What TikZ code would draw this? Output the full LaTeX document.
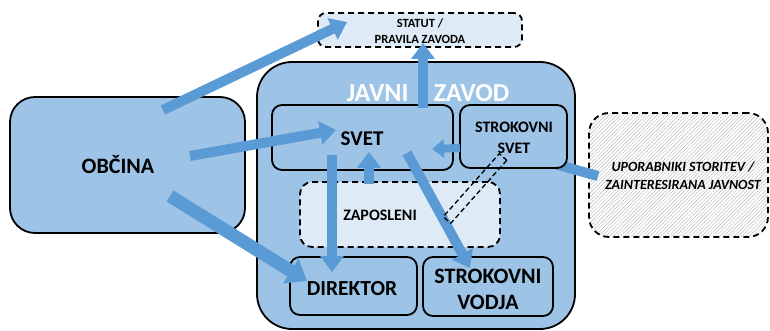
\documentclass[tikz,border=0pt]{standalone}
\usepackage{fontspec}
\setmainfont{Carlito}
\usetikzlibrary{arrows.meta,calc,patterns.meta}
\definecolor{zfill}{HTML}{9DC3E6}
\definecolor{lfill}{HTML}{DEEBF7}
\definecolor{ablue}{HTML}{5B9BD5}
\begin{document}
\begin{tikzpicture}[x=1pt,y=-1pt,
  box/.style={draw=black, line width=1.8pt, fill=zfill, rounded corners=10pt, inner sep=0pt},
  dbox/.style={draw=black, line width=1.8pt, dash pattern=on 6pt off 4pt, rounded corners=10pt, inner sep=0pt},
  txt/.style={inner sep=0pt, align=center, font=\bfseries},
  bigarrow/.style={draw=ablue, line width=10pt, -{Triangle[length=16pt,width=23pt]}},
  smallarrow/.style={draw=ablue, line width=8pt, -{Triangle[length=12pt,width=18pt]}},
  thickarrow/.style={draw=ablue, line width=13pt, -{Triangle[length=19pt,width=28pt]}},
  bar/.style={draw=ablue, line width=10pt},
  hollowbar/.style={draw=black, line width=1.3pt, dash pattern=on 5pt off 3pt}]
\useasboundingbox (0,0) rectangle (770,331);
% containers
\node[box, minimum width=318pt, minimum height=267pt, rounded corners=35pt] (zavod) at (416,195.5) {};
\node[box, minimum width=235pt, minimum height=136pt, rounded corners=25pt] (obcina) at (127.5,165) {};
\node[dbox, fill=lfill, minimum width=204pt, minimum height=34pt, rounded corners=8pt] (statut) at (420,30) {};
\node[dbox, fill=white, pattern={Lines[angle=45,distance=2.6pt,line width=0.45pt]}, pattern color=gray!55, minimum width=179pt, minimum height=124pt, rounded corners=20pt] (upor) at (678.5,175) {};
% bar from users to professional council (behind box)
\coordinate (b9s) at (598,176);
\coordinate (b9e) at (540,160);
\draw[bar] (b9s) -- (b9e);
% inner boxes
\node[box, minimum width=181pt, minimum height=65pt] (svet) at (362.5,137.5) {};
\node[box, minimum width=107pt, minimum height=63pt] (ssvet) at (513.5,136.5) {};
\node[dbox, fill=lfill, minimum width=200pt, minimum height=65pt, rounded corners=12pt] (zap) at (400,214.5) {};
\node[box, minimum width=127pt, minimum height=58pt] (dir) at (353.5,286) {};
\node[box, minimum width=130pt, minimum height=59pt] (vodja) at (488,286.5) {};
% texts
\node[txt, text=white, font=\bfseries\fontsize{26}{28}\selectfont] (javni) at (377.5,93.5) {JAVNI};
\node[txt, text=white, font=\bfseries\fontsize{26}{28}\selectfont] (zavodt) at (471.5,93.5) {ZAVOD};
\node[txt, font=\bfseries\fontsize{12.5}{16}\selectfont] (statutt) at (420,31) {STATUT /\\PRAVILA ZAVODA};
\node[txt, font=\bfseries\fontsize{22}{24}\selectfont] (obcinat) at (118,165) {OBČINA};
\node[txt, font=\bfseries\fontsize{21}{24}\selectfont] (svett) at (362,139) {SVET};
\node[txt, font=\bfseries\fontsize{16}{21.5}\selectfont] (ssvett) at (514,138) {STROKOVNI\\SVET};
\node[txt, font=\bfseries\fontsize{16}{18}\selectfont] (zapt) at (380,215) {ZAPOSLENI};
\node[txt, font=\bfseries\fontsize{21.5}{24}\selectfont] (dirt) at (352,289) {DIREKTOR};
\node[txt, font=\bfseries\fontsize{22}{26}\selectfont] (vodjat) at (488,289) {STROKOVNI\\VODJA};
\node[txt, font=\bfseries\itshape\fontsize{14}{18}\selectfont] (uport) at (683,176) {UPORABNIKI STORITEV /\\ZAINTERESIRANA JAVNOST};
% arrow end points
\coordinate (a1s) at (163,110);  \coordinate (a1e) at (347,22);
\coordinate (a2s) at (190,156);  \coordinate (a2e) at (336,130);
\coordinate (a3s) at (170,196);  \coordinate (a3e) at (307,281);
\coordinate (a4s) at (332,155);  \coordinate (a4e) at (332,272);
\coordinate (a5s) at (369,184);  \coordinate (a5e) at (369,152);
\coordinate (a6s) at (407,153);  \coordinate (a6e) at (470,268);
\coordinate (a7s) at (423,108);  \coordinate (a7e) at (423,43);
\coordinate (a8s) at (460,148);  \coordinate (a8e) at (432,149);
% arrows
\draw[bigarrow] (a1s) -- (a1e);
\draw[bigarrow] (a2s) -- (a2e);
\draw[thickarrow] (a3s) -- (a3e);
\draw[bigarrow] (a4s) -- (a4e);
\draw[bigarrow] (a5s) -- (a5e);
\draw[bigarrow] (a6s) -- (a6e);
\draw[bigarrow] (a7s) -- (a7e);
\draw[smallarrow] (a8s) -- (a8e);
% dashed hollow bar between professional council and staff
\coordinate (d1) at (503,157);
\coordinate (d2) at (447,220);
\draw[hollowbar] ($(d1)!5pt!90:(d2)$) -- ($(d2)!5pt!-90:(d1)$) -- ($(d2)!5pt!90:(d1)$) -- ($(d1)!5pt!-90:(d2)$) -- cycle;
\end{tikzpicture}
\end{document}
